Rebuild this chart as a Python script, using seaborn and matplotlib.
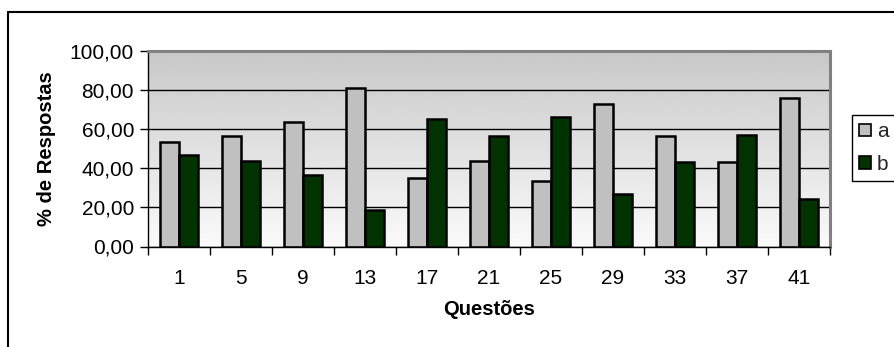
import numpy as np
import pandas as pd
import matplotlib
matplotlib.use("Agg")
import matplotlib.pyplot as plt
from matplotlib.lines import Line2D
from matplotlib.patches import Patch
from matplotlib.ticker import FuncFormatter, FixedLocator
import seaborn as sns

questions = ["1", "5", "9", "13", "17", "21", "25", "29", "33", "37", "41"]
answers_a = [53.3, 56.3, 63.6, 81.3, 35.0, 43.6, 33.6, 73.1, 56.6, 43.2, 75.9]
answers_b = [46.7, 43.7, 36.4, 18.7, 65.0, 56.4, 66.4, 26.9, 43.4, 56.8, 24.1]
series_names = ["a", "b"]
series_colors = ["#c0c0c0", "#003300"]

df = pd.DataFrame({
    "Questões": questions * 2,
    "valor": answers_a + answers_b,
    "serie": ["a"] * len(questions) + ["b"] * len(questions),
})

sns.set_theme(style="white")
plt.rcParams["font.family"] = ["Liberation Sans", "DejaVu Sans"]

W, H = 894, 347
fig = plt.figure(figsize=(W / 100, H / 100), dpi=100)
ax = fig.add_axes([148 / W, 1 - 246.5 / H, (830 - 148) / W, (246.5 - 51) / H])

# gradient plot-area background: gray at the top fading to near white
grad = np.linspace(200, 250, 256)[:, None] / 255.0
grad = np.repeat(grad, 2, axis=1)
ax.imshow(grad, extent=[0, 1, 0, 1], origin="upper", transform=ax.transAxes, aspect="auto",
          cmap="gray", vmin=0, vmax=1, zorder=0.1, interpolation="bilinear")

sns.barplot(data=df, x="Questões", y="valor", hue="serie", order=questions,
            hue_order=series_names, palette=series_colors, width=0.6,
            edgecolor="black", linewidth=1.8, saturation=1, ax=ax,
            legend=False, zorder=2)

ax.set_xlim(-0.5, len(questions) - 0.5)
ax.set_ylim(0, 100)

ax.set_axisbelow(True)
ax.yaxis.grid(True, color="black", linewidth=1.0)
ax.xaxis.grid(False)
ax.set_yticks([0, 20, 40, 60, 80, 100])
ax.yaxis.set_major_formatter(FuncFormatter(lambda v, p: f"{v:.2f}".replace(".", ",")))

# ticks on category boundaries, labels at centers
ax.xaxis.set_minor_locator(FixedLocator(np.arange(-0.5, len(questions), 1.0)))
ax.tick_params(axis="x", which="major", length=0, pad=16, labelsize=15, colors="black")
ax.tick_params(axis="x", which="minor", length=6, width=1, color="black", direction="out", bottom=True)
ax.tick_params(axis="y", which="major", length=6, width=1, color="black", direction="out",
               left=True, pad=4, labelsize=15, labelcolor="black")

for side in ["top", "right"]:
    ax.spines[side].set_color("#808080")
    ax.spines[side].set_linewidth(2.2)
for side in ["left", "bottom"]:
    ax.spines[side].set_color("black")
    ax.spines[side].set_linewidth(1.0)

ax.set_xlabel("Questões", fontsize=14.5, fontweight="bold", labelpad=9, color="black")
ax.set_ylabel("% de Respostas", fontsize=14.5, fontweight="bold", labelpad=10, color="black")

handles = [Patch(facecolor=c, edgecolor="black", linewidth=1.2) for c in series_colors]
fig.legend(handles, series_names, loc="upper left", bbox_to_anchor=(852 / W, 1 - 115 / H),
           borderaxespad=0, frameon=True, fancybox=False, edgecolor="black",
           fontsize=15, handlelength=0.55, handleheight=0.55, handletextpad=0.3,
           labelspacing=0.65, borderpad=0.35, framealpha=1)

# outer chart frame
fig.add_artist(Line2D([8 / W, 1.0], [1 - 12 / H, 1 - 12 / H], transform=fig.transFigure,
                      color="black", linewidth=1.5))
fig.add_artist(Line2D([8 / W, 8 / W], [0.0, 1 - 12 / H], transform=fig.transFigure,
                      color="black", linewidth=1.5))

fig.savefig("out.png", dpi=100, facecolor="white")
